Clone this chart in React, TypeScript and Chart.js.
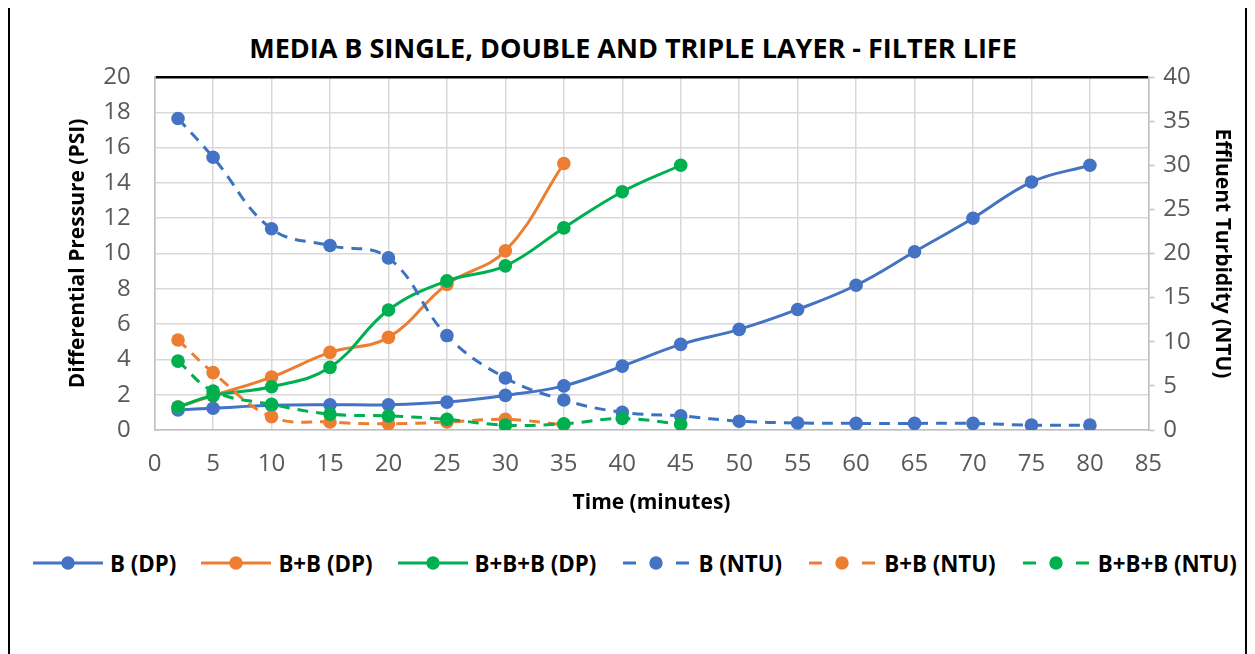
import { useEffect, useRef } from "react";
import { Chart, registerables, type ChartConfiguration } from "chart.js";

Chart.register(...registerables);

// time points (minutes) per series
const T_B = [2, 5, 10, 15, 20, 25, 30, 35, 40, 45, 50, 55, 60, 65, 70, 75, 80];
const T_BB = [2, 5, 10, 15, 20, 25, 30, 35];
const T_BBB = [2, 5, 10, 15, 20, 25, 30, 35, 40, 45];

// differential pressure (PSI), left axis
const B_DP = [1.14, 1.23, 1.4, 1.43, 1.43, 1.58, 1.96, 2.5, 3.62, 4.85, 5.7, 6.83, 8.2, 10.1, 12.0, 14.05, 15.0];
const BB_DP = [1.3, 1.95, 3.0, 4.4, 5.25, 8.25, 10.15, 15.1];
const BBB_DP = [1.3, 1.95, 2.45, 3.55, 6.8, 8.45, 9.3, 11.45, 13.5, 15.0];

// effluent turbidity (NTU), right axis
const B_NTU = [35.3, 30.9, 22.8, 20.9, 19.5, 10.7, 5.9, 3.4, 2.0, 1.6, 1.0, 0.8, 0.75, 0.75, 0.75, 0.55, 0.55];
const BB_NTU = [10.2, 6.5, 1.5, 0.9, 0.7, 0.9, 1.2, 0.6];
const BBB_NTU = [7.8, 4.4, 2.9, 1.8, 1.6, 1.2, 0.55, 0.7, 1.3, 0.65];

const TITLE = "MEDIA B SINGLE, DOUBLE AND TRIPLE LAYER - FILTER LIFE";

const BLUE = "#4472C4";
const BLUE_DASH = "#3B73C0";
const ORANGE = "#ED7D31";
const GREEN = "#00B050";
const FONT = "'Open Sans', sans-serif";
const TICK = "#595959";
const GRID = "#d9d9d9";
const AXIS = "#bfbfbf";

const pts = (xs: number[], ys: number[]) => xs.map((x, i) => ({ x, y: ys[i] }));

type Item = { label: string; color: string; line: string; dashed: boolean };
const LEGEND: Item[] = [
  { label: "B (DP)", color: BLUE, line: BLUE, dashed: false },
  { label: "B+B (DP)", color: ORANGE, line: ORANGE, dashed: false },
  { label: "B+B+B (DP)", color: GREEN, line: GREEN, dashed: false },
  { label: "B (NTU)", color: BLUE, line: BLUE_DASH, dashed: true },
  { label: "B+B (NTU)", color: ORANGE, line: ORANGE, dashed: true },
  { label: "B+B+B (NTU)", color: GREEN, line: GREEN, dashed: true },
];

function series(label: string, data: { x: number; y: number }[], color: string, line: string, axis: string, dashed: boolean, order: number) {
  return {
    label,
    data,
    showLine: true,
    borderColor: line,
    backgroundColor: color,
    borderWidth: 3,
    borderDash: dashed ? [11, 8] : [],
    tension: 0.4,
    pointRadius: 6.8,
    pointBackgroundColor: color,
    pointBorderColor: color,
    pointBorderWidth: 0,
    yAxisID: axis,
    order,
  };
}

function LegendMark({ item }: { item: Item }) {
  return (
    <svg width={70} height={16} style={{ display: "block" }}>
      {item.dashed ? (
        <>
          <line x1={2} y1={8} x2={15} y2={8} stroke={item.line} strokeWidth={3} />
          <line x1={55} y1={8} x2={68} y2={8} stroke={item.line} strokeWidth={3} />
        </>
      ) : (
        <line x1={0} y1={8} x2={70} y2={8} stroke={item.line} strokeWidth={3} />
      )}
      <circle cx={35} cy={8} r={6.7} fill={item.color} />
    </svg>
  );
}

export default function App() {
  const canvasRef = useRef<HTMLCanvasElement>(null);

  useEffect(() => {
    if (!canvasRef.current) return;
    const cfg: ChartConfiguration<"scatter"> = {
      type: "scatter",
      data: {
        datasets: [
          series("B (DP)", pts(T_B, B_DP), BLUE, BLUE, "y", false, 0),
          series("B+B (DP)", pts(T_BB, BB_DP), ORANGE, ORANGE, "y", false, -1),
          series("B+B+B (DP)", pts(T_BBB, BBB_DP), GREEN, GREEN, "y", false, -2),
          series("B (NTU)", pts(T_B, B_NTU), BLUE, BLUE_DASH, "y2", true, -3),
          series("B+B (NTU)", pts(T_BB, BB_NTU), ORANGE, ORANGE, "y2", true, -4),
          series("B+B+B (NTU)", pts(T_BBB, BBB_NTU), GREEN, GREEN, "y2", true, -5),
        ] as any,
      },
      options: {
        animation: false,
        responsive: true,
        maintainAspectRatio: false,
        layout: { padding: { left: 55, right: 10, top: 69, bottom: 22 } },
        plugins: {
          legend: { display: false },
          tooltip: { enabled: false },
        },
        scales: {
          x: {
            type: "linear",
            min: 0,
            max: 85,
            ticks: { stepSize: 5, color: TICK, font: { family: FONT, size: 24 }, padding: 20 },
            grid: { color: GRID, lineWidth: 1.5, drawTicks: false },
            border: { color: AXIS, width: 1.5 },
            title: {
              display: true,
              text: "Time (minutes)",
              color: "#000",
              font: { family: FONT, size: 21, weight: "bold" },
              padding: { top: -8, bottom: 0 },
            },
          },
          y: {
            position: "left",
            min: 0,
            max: 20,
            ticks: { stepSize: 2, color: TICK, font: { family: FONT, size: 24 }, padding: 24 },
            grid: {
              color: (c) => (c.tick && c.tick.value === 20 ? "#000" : GRID),
              lineWidth: (c) => (c.tick && c.tick.value === 20 ? 2.5 : 1.5),
              drawTicks: false,
            },
            border: { color: AXIS, width: 1.5 },
            title: {
              display: true,
              text: "Differential Pressure (PSI)",
              color: "#000",
              font: { family: FONT, size: 21, weight: "bold" },
              padding: { top: 0, bottom: -11 },
            },
          },
          y2: {
            position: "right",
            min: 0,
            max: 40,
            ticks: { stepSize: 5, color: TICK, font: { family: FONT, size: 24 }, padding: 9 },
            grid: { drawOnChartArea: false, drawTicks: true, tickLength: 6, tickColor: AXIS, tickWidth: 1.5 },
            border: { color: AXIS, width: 1.5 },
            title: {
              display: true,
              text: "Effluent Turbidity (NTU)",
              color: "#000",
              font: { family: FONT, size: 21, weight: "bold" },
              padding: { top: 0, bottom: 10 },
            },
          },
        },
      },
    };
    const chart = new Chart(canvasRef.current, cfg);
    return () => chart.destroy();
  }, []);

  return (
    <div
      style={{
        position: "relative",
        marginTop: -2,
        height: 680,
        border: "2px solid #000",
        background: "#fff",
        fontFamily: FONT,
      }}
    >
      <div
        style={{
          position: "absolute",
          left: 0,
          top: 24,
          width: 1246,
          textAlign: "center",
          fontSize: 27,
          lineHeight: "32px",
          fontWeight: 700,
          color: "#000",
          whiteSpace: "nowrap",
        }}
      >
        {TITLE}
      </div>
      <div style={{ position: "absolute", left: 0, top: 0, width: 1235, height: 530 }}>
        <canvas ref={canvasRef} />
      </div>
      <div
        style={{
          position: "absolute",
          left: 23,
          top: 540,
          height: 30,
          display: "flex",
          alignItems: "center",
          gap: 25,
          whiteSpace: "nowrap",
        }}
      >
        {LEGEND.map((it) => (
          <div key={it.label} style={{ display: "flex", alignItems: "center", gap: 7 }}>
            <LegendMark item={it} />
            <span style={{ fontSize: 22.3, fontWeight: 700, color: "#000" }}>{it.label}</span>
          </div>
        ))}
      </div>
    </div>
  );
}
